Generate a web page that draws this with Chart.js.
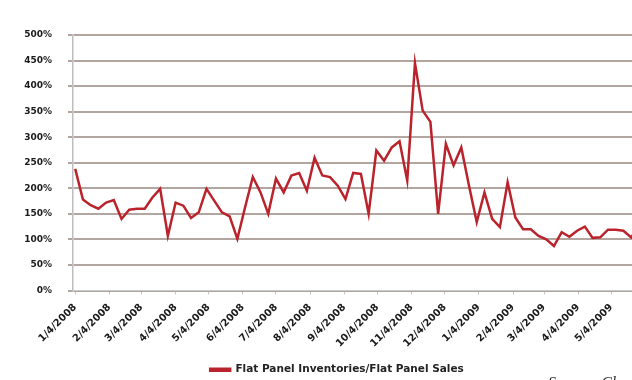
<!DOCTYPE html>
<html>
<head>
<meta charset="utf-8">
<script src="https://cdn.jsdelivr.net/npm/chart.js@4"></script>
<style>
  html, body { margin: 0; padding: 0; background: #fff; overflow: hidden; width: 632px; height: 380px; }
  #ratioChart { position: absolute; left: 0; top: 0; }
  #source { position: absolute; left: 548px; top: 374px; font: italic 16px "Liberation Serif", serif; color: #333; white-space: nowrap; }
</style>
</head>
<body>
<canvas id="ratioChart" width="640" height="385" style="width:640px;height:385px"></canvas>
<div id="source">Source: Cl</div>
<script>
// weekly readings, first week = 1/4/2008
const seriesName = 'Flat Panel Inventories/Flat Panel Sales';
const ratioValues = [
    238, 178, 167, 160, 172, 177, 140, 158, 160, 160,
    182, 199, 107, 172, 166, 142, 153, 199, 176, 153,
    145, 101, 163, 222, 192, 150, 219, 192, 225, 230,
    195, 260, 225, 222, 205, 179, 230, 228, 150, 274,
    254, 280, 292, 215, 445, 352, 330, 150, 287, 245,
    280, 205, 134, 192, 140, 124, 212, 143, 120, 120,
    107, 100, 87, 114, 105, 117, 125, 103, 104, 119,
    119, 117, 104, 124
];
const monthLabels = [
    '1/4/2008', '2/4/2008', '3/4/2008', '4/4/2008', '5/4/2008', '6/4/2008',
    '7/4/2008', '8/4/2008', '9/4/2008', '10/4/2008', '11/4/2008', '12/4/2008',
    '1/4/2009', '2/4/2009', '3/4/2009', '4/4/2009', '5/4/2009'
];
const yTicks = [0, 50, 100, 150, 200, 250, 300, 350, 400, 450, 500];

function dayOf(label) {
    const [m, d, y] = label.split('/').map(Number);
    return (Date.UTC(y, m - 1, d) - Date.UTC(2008, 0, 4)) / 86400000;
}
const monthDays = monthLabels.map(dayOf);
const points = ratioValues.map((v, i) => ({ x: i * 7, y: v }));

const ctx = document.getElementById('ratioChart').getContext('2d');
const gridColor = '#b3a6a1';

// nudge the legend a bit right of the canvas centre
const legendShift = {
    id: 'legendShift',
    afterLayout(chart) {
        if (chart.legend) {
            chart.legend.left += 17;
            chart.legend.right += 17;
        }
    }
};

const myChart = new Chart(ctx, {
    type: 'line',
    data: {
        datasets: [{
            label: seriesName,
            data: points,
            borderColor: '#bb232c',
            backgroundColor: '#bb232c',
            borderWidth: 2.5,
            pointRadius: 0,
            tension: 0
        }]
    },
    plugins: [legendShift],
    options: {
        responsive: false,
        animation: false,
        devicePixelRatio: 1,
        layout: { padding: { left: 0, right: 0, top: 35, bottom: 0 } },
        plugins: {
            tooltip: { enabled: false },
            legend: {
                position: 'bottom',
                labels: {
                    boxWidth: 20,
                    boxHeight: 2,
                    padding: 5,
                    color: '#222',
                    font: { family: 'DejaVu Sans', size: 10.5, weight: 'bold' }
                }
            }
        },
        scales: {
            x: {
                type: 'linear',
                min: -2,
                max: 512,
                afterBuildTicks: (scale) => {
                    scale.ticks = monthDays.map(d => ({ value: d }));
                },
                afterFit: (scale) => { scale.height = 69; },
                ticks: {
                    autoSkip: false,
                    maxRotation: 45,
                    minRotation: 45,
                    padding: 7,
                    color: '#1a1a1a',
                    font: { family: 'DejaVu Sans', size: 10, weight: 'bold' },
                    callback: (value, index) => monthLabels[index]
                },
                grid: {
                    drawOnChartArea: false,
                    drawTicks: true,
                    tickLength: 4,
                    color: '#c8c8c8'
                },
                border: { display: true, color: '#c8c8c8' }
            },
            y: {
                min: 0,
                max: 500,
                afterBuildTicks: (scale) => {
                    scale.ticks = yTicks.map(v => ({ value: v }));
                },
                afterFit: (scale) => { scale.width = 73; },
                ticks: {
                    padding: 16,
                    color: '#1a1a1a',
                    font: { family: 'DejaVu Sans', size: 9, weight: 'bold' },
                    callback: (value) => value + '%'
                },
                grid: {
                    color: gridColor,
                    lineWidth: 2,
                    tickLength: 5
                },
                border: { display: true, color: '#bdbdbd', width: 1.5 }
            }
        }
    }
});
</script>
</body>
</html>
